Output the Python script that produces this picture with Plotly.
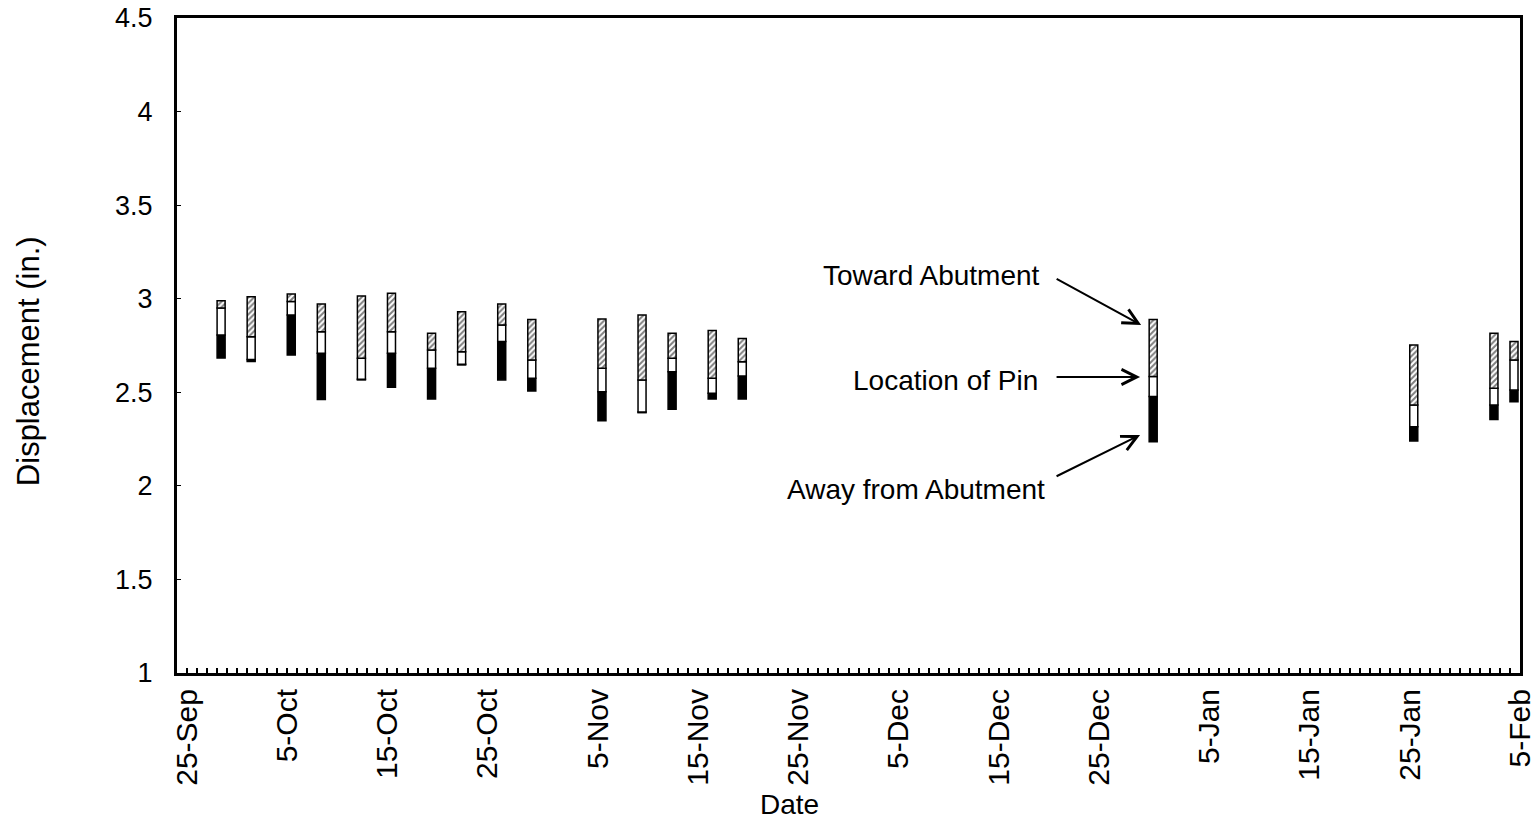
import plotly.graph_objects as go

# reading dates and displacement ranges (in.) per reading
dates = ["1998-09-28", "1998-10-01", "1998-10-05", "1998-10-08", "1998-10-12",
         "1998-10-15", "1998-10-19", "1998-10-22", "1998-10-26", "1998-10-29",
         "1998-11-05", "1998-11-09", "1998-11-12", "1998-11-16", "1998-11-19",
         "1998-12-30", "1999-01-25", "1999-02-02", "1999-02-04"]
away_low = [2.683, 2.665, 2.699, 2.462, 2.566, 2.527, 2.464, 2.646, 2.566, 2.507,
            2.348, 2.391, 2.409, 2.464, 2.464, 2.236, 2.240, 2.355, 2.450]
pin_low = [2.806, 2.675, 2.913, 2.708, 2.570, 2.708, 2.628, 2.650, 2.771, 2.575,
           2.503, 2.395, 2.610, 2.495, 2.587, 2.477, 2.316, 2.432, 2.512]
pin_high = [2.950, 2.797, 2.985, 2.824, 2.682, 2.824, 2.726, 2.717, 2.860, 2.673,
            2.628, 2.566, 2.682, 2.575, 2.663, 2.584, 2.432, 2.521, 2.673]
toward_high = [2.989, 3.011, 3.025, 2.972, 3.015, 3.029, 2.815, 2.931, 2.972, 2.889,
               2.892, 2.913, 2.815, 2.830, 2.788, 2.889, 2.753, 2.815, 2.771]

tick_dates = ["1998-09-25", "1998-10-05", "1998-10-15", "1998-10-25", "1998-11-05",
              "1998-11-15", "1998-11-25", "1998-12-05", "1998-12-15", "1998-12-25",
              "1999-01-05", "1999-01-15", "1999-01-25", "1999-02-05"]
tick_text = ["25-Sep", "5-Oct", "15-Oct", "25-Oct", "5-Nov", "15-Nov", "25-Nov",
             "5-Dec", "15-Dec", "25-Dec", "5-Jan", "15-Jan", "25-Jan", "5-Feb"]

DAY = 86400000
font = "Liberation Sans, Arial, sans-serif"
bar_w = 0.8 * DAY
outline = dict(color="black", width=1.5)

fig = go.Figure()

fig.add_trace(go.Bar(
    x=dates, base=away_low, y=[p - a for p, a in zip(pin_low, away_low)],
    width=bar_w, offset=0, name="Away from Abutment",
    marker=dict(color="black", line=outline)))

fig.add_trace(go.Bar(
    x=dates, base=pin_low, y=[h - l for h, l in zip(pin_high, pin_low)],
    width=bar_w, offset=0, name="Location of Pin",
    marker=dict(color="white", line=outline)))

fig.add_trace(go.Bar(
    x=dates, base=pin_high, y=[t - h for t, h in zip(toward_high, pin_high)],
    width=bar_w, offset=0, name="Toward Abutment",
    marker=dict(color="white", line=outline,
                pattern=dict(shape="/", fgcolor="black", bgcolor="white",
                             size=4, solidity=0.5))))

# labels with arrows pointing at the Dec reading
labels = [("Toward Abutment", 0.6442, 0.6076, 0.7179, 0.5313, -86, -47),
          ("Location of Pin", 0.6427, 0.4473, 0.7171, 0.4519, -85, 0),
          ("Away from Abutment", 0.6479, 0.2794, 0.7171, 0.3634, -85, 42)]
for txt, tx, ty, hx, hy, ax, ay in labels:
    fig.add_annotation(x=tx, y=ty, xref="paper", yref="paper", text=txt,
                       showarrow=False, xanchor="right", yanchor="middle",
                       font=dict(family=font, size=28, color="black"))
    fig.add_annotation(x=hx, y=hy, xref="paper", yref="paper", text="",
                       showarrow=True, ax=ax, ay=ay, arrowhead=5,
                       arrowsize=1.5, arrowwidth=2, arrowcolor="black")

fig.add_annotation(x=-0.111, y=0.476, xref="paper", yref="paper",
                   text="Displacement (in.)", textangle=-90, showarrow=False,
                   xanchor="center", yanchor="middle",
                   font=dict(family=font, size=31, color="black"))
fig.add_annotation(x=0.456, y=-0.201, xref="paper", yref="paper",
                   text="Date", showarrow=False,
                   xanchor="center", yanchor="middle",
                   font=dict(family=font, size=28, color="black"))

fig.update_layout(
    width=1535, height=824,
    margin=dict(l=177, r=15, t=18, b=151),
    paper_bgcolor="white", plot_bgcolor="white",
    barmode="overlay", showlegend=False,
    font=dict(family=font, color="black"),
    xaxis=dict(type="date", range=["1998-09-24", "1999-02-05"],
               tickvals=tick_dates, ticktext=tick_text, tickangle=-90,
               tickfont=dict(size=30), ticks="inside", ticklen=5,
               tickwidth=1.5, tickcolor="black", ticklabelstandoff=1,
               ticklabeloverflow="allow",
               minor=dict(dtick=DAY, tick0="1998-09-24", ticks="inside",
                          ticklen=5, tickwidth=1.5, tickcolor="black"),
               showgrid=False, showline=True, linecolor="black",
               linewidth=3, mirror=True, zeroline=False, automargin=False),
    yaxis=dict(range=[1, 4.5], dtick=0.5,
               tickfont=dict(size=27), ticks="inside", ticklen=4,
               tickcolor="black", ticklabelstandoff=16,
               ticklabeloverflow="allow",
               showgrid=False, showline=True, linecolor="black",
               linewidth=3, mirror=True, zeroline=False, automargin=False),
)

# drop the default 8px page margin so the full-size figure fits the window
fig.write_html("out.html", config={"displayModeBar": False},
               post_script="document.body.style.margin='0';")
